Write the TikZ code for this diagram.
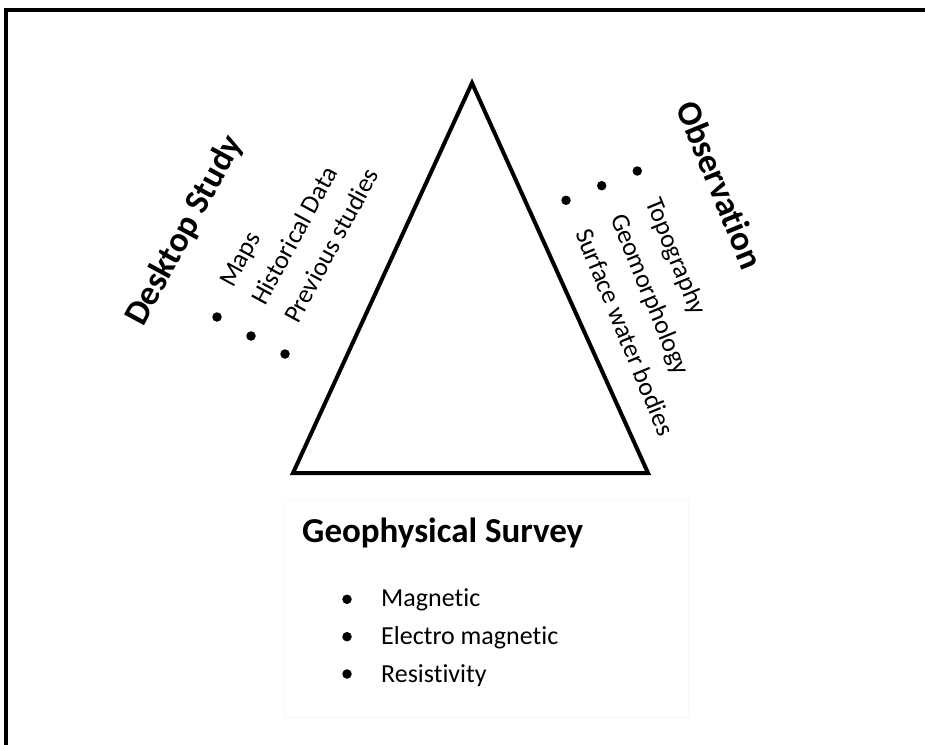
\documentclass[tikz,border=0pt]{standalone}
\usepackage{fontspec}
\setmainfont{Carlito}[Ligatures=NoCommon]
\begin{document}
\begin{tikzpicture}[x=1pt,y=-1pt,
  head/.style={inner sep=0pt,anchor=base west,font=\fontsize{35}{40}\selectfont\bfseries},
  item/.style={inner sep=0pt,anchor=base west,font=\fontsize{26}{30}\selectfont},
  dot/.style={circle,fill=black,inner sep=0pt,minimum size=9.5pt}]
\useasboundingbox (0,0) rectangle (925,744);
\clip (0,0) rectangle (925,744);
% frame
\draw[line width=4.5pt] (6,10) rectangle (940,760);
% triangle
\coordinate (apex) at (472,83);
\coordinate (bl) at (293,473);
\coordinate (br) at (648,473);
\draw[line width=4pt,line join=miter] (apex) -- (br) -- (bl) -- cycle;
% faint box of bottom block
\draw[line width=0.8pt,draw=black!3] (284,500) rectangle (688,717);
% Geophysical survey
\node[head] (geo) at (302,542) {Geophysical Survey};
\node[dot] (gb1) at (347,599.3) {};
\node[dot] (gb2) at (347,636.7) {};
\node[dot] (gb3) at (347,674) {};
\node[item] (gi1) at (381,606.7) {Magnetic};
\node[item] (gi2) at (381,644) {Electro magnetic};
\node[item] (gi3) at (381,682.7) {Resistivity};
% Desktop study
\node[head,rotate=61.5] (desk) at (143,328) {Desktop Study};
\node[dot] (db1) at (217,317) {};
\node[dot] (db2) at (251,336) {};
\node[dot] (db3) at (285,354) {};
\node[item,rotate=61.5] (di1) at (233,289) {Maps};
\node[item,rotate=61.5] (di2) at (265,307) {Historical Data};
\node[item,rotate=61.5] (di3) at (298,325) {Previous studies};
% Observation
\node[head,rotate=-67.6] (obs) at (675,107) {Observation};
\node[dot] (ob1) at (637.3,171) {};
\node[dot] (ob2) at (601.7,185.7) {};
\node[dot] (ob3) at (566,200.3) {};
\node[item,rotate=-67.6] (oi1) at (645,202) {Topography};
\node[item,rotate=-67.6] (oi2) at (610,218) {Geomorphology};
\node[item,rotate=-67.6] (oi3) at (575,233) {Surface water bodies};
\end{tikzpicture}
\end{document}
